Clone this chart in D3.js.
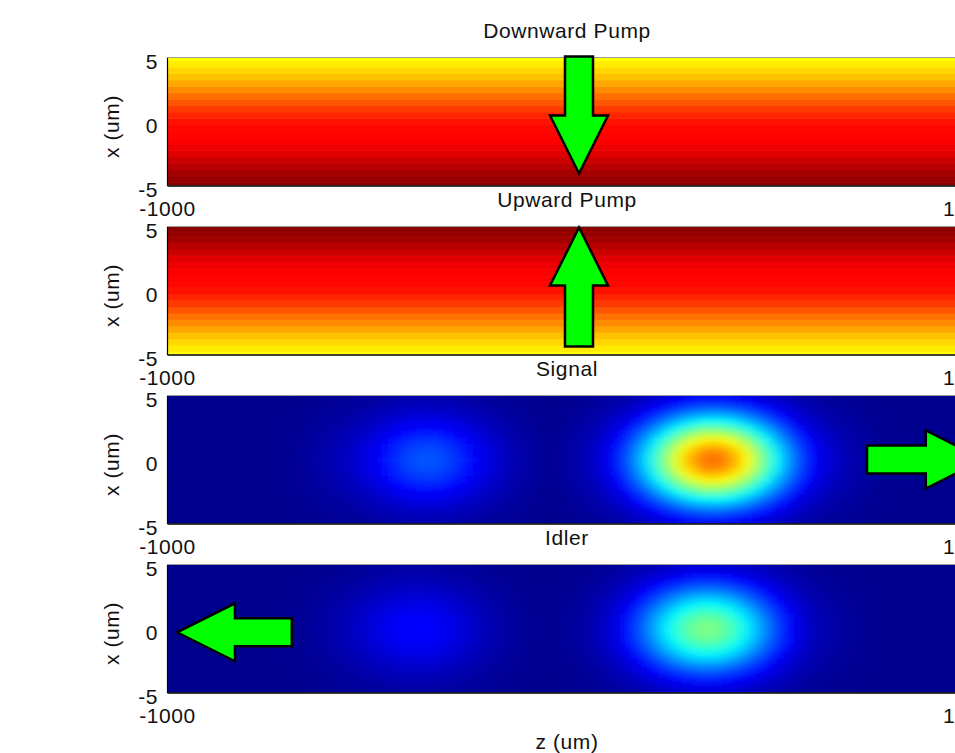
<!DOCTYPE html>
<html>
<head>
<meta charset="utf-8">
<script src="https://cdn.jsdelivr.net/npm/d3@7"></script>
<style>
body { margin: 0; background: #fff; overflow: hidden; }
svg text { font-family: "Liberation Sans", Arial, sans-serif; font-size: 21px; letter-spacing: 0.6px; fill: #111; }
</style>
</head>
<body>
<svg id="drawing_region"></svg>
<script>
// panel titles, in order top to bottom
const titles = ["Downward Pump", "Upward Pump", "Signal", "Idler"];
const zTicks = [-1000, 1000];
const xTicks = [-5, 0, 5];

// transverse sample points (um)
const xGrid = [-5, -4.5, -4, -3.5, -3, -2.5, -2, -1.5, -1, -0.5, 0, 0.5, 1, 1.5, 2, 2.5, 3, 3.5, 4, 4.5, 5];
// pump intensity across x (hot colormap fraction)
const downPump = [0.20, 0.22, 0.24, 0.27, 0.30, 0.33, 0.35, 0.37, 0.38, 0.385, 0.40, 0.43, 0.46, 0.50, 0.54, 0.58, 0.62, 0.66, 0.69, 0.72, 0.75];
const upPump   = [0.75, 0.72, 0.69, 0.66, 0.62, 0.58, 0.54, 0.50, 0.46, 0.43, 0.40, 0.385, 0.38, 0.37, 0.35, 0.33, 0.30, 0.27, 0.24, 0.22, 0.20];

// signal / idler: profile along z (every 25 um, -1000..1000) and shared profile across x
const zStep = 25;
const signalZ = [0, 0, 0, 0, 0, 0, 0, 0, 0, 0,
  0.002, 0.004, 0.006, 0.010, 0.016, 0.025, 0.034, 0.045, 0.058, 0.075, 0.095, 0.118, 0.144, 0.170, 0.191,
  0.205, 0.210, 0.205, 0.191, 0.170, 0.144, 0.118, 0.095, 0.072, 0.052, 0.036, 0.024, 0.015, 0.009, 0.006,
  0.022, 0.032, 0.048, 0.072, 0.107, 0.147, 0.204, 0.273, 0.352, 0.438, 0.525, 0.609, 0.681, 0.733,
  0.763, 0.765, 0.741, 0.692, 0.624, 0.542, 0.455, 0.369, 0.288, 0.217, 0.157, 0.115, 0.082, 0.060,
  0.042, 0.029, 0.019, 0.012, 0.007, 0.004, 0.002,
  0, 0, 0, 0, 0, 0];
const idlerZ = [0, 0, 0, 0, 0, 0, 0, 0, 0, 0,
  0.002, 0.003, 0.005, 0.008, 0.012, 0.018, 0.026, 0.036, 0.048, 0.062, 0.077, 0.092, 0.107, 0.119, 0.127,
  0.130, 0.127, 0.119, 0.107, 0.092, 0.076, 0.060, 0.045, 0.032, 0.022, 0.015, 0.009, 0.006, 0.003, 0.008,
  0.012, 0.018, 0.029, 0.046, 0.070, 0.102, 0.142, 0.191, 0.246, 0.306, 0.365, 0.419, 0.462, 0.490,
  0.500, 0.490, 0.462, 0.419, 0.365, 0.306, 0.246, 0.191, 0.142, 0.102, 0.070, 0.046, 0.034, 0.024,
  0.016, 0.010, 0.006, 0.003, 0.001,
  0, 0, 0, 0, 0, 0, 0, 0];
const beamX = [0.148, 0.213, 0.295, 0.393, 0.503, 0.621, 0.737, 0.842, 0.927, 0.981, 1, 0.981, 0.927, 0.842, 0.737, 0.621, 0.503, 0.393, 0.295, 0.213, 0.148];

// arrows in data units (z, x): tail -> tip, one per panel
const arrows = [
  {panel: 0, from: [30, 5.08], to: [30, -4.06]},
  {panel: 1, from: [30, -4.37], to: [30, 4.92]},
  {panel: 2, from: [750, 0], to: [1042, 0]},
  {panel: 3, from: [-688, -0.3], to: [-975, -0.3]}
];

const width = 955, height = 753;
const margin = {top: 57.5, left: 167};
const plotW = 800, plotH = 128, step = 169;

const svg = d3.select('#drawing_region')
    .attr('width', width)
    .attr('height', height);

const zGrid = d3.range(-1000, 1000 + zStep / 2, zStep);
const xStep = 0.5;

const zscale = d3.scaleLinear().domain([-1000, 1000]).range([0, plotW]);
const yscale = d3.scaleLinear().domain([-5, 5]).range([plotH, 0]);

const hot = d3.scaleLinear()
    .domain([0, 0.375, 0.75, 1])
    .range(['#000000', '#ff0000', '#ffff00', '#ffffff'])
    .clamp(true);
const jet = d3.scaleLinear()
    .domain([0, 0.125, 0.375, 0.625, 0.875, 1])
    .range(['#00008f', '#0000ff', '#00ffff', '#ffff00', '#ff0000', '#800000'])
    .clamp(true);

const defs = svg.append('defs');
defs.append('clipPath').attr('id', 'plotClip')
  .append('rect').attr('width', plotW).attr('height', plotH);

// soften the sampled field, then force full alpha so edges keep their colour
const filt = defs.append('filter').attr('id', 'smooth')
    .attr('filterUnits', 'userSpaceOnUse')
    .attr('x', 0).attr('y', 0).attr('width', plotW).attr('height', plotH);
filt.append('feGaussianBlur').attr('stdDeviation', '6 3');
filt.append('feComponentTransfer')
  .append('feFuncA').attr('type', 'table').attr('tableValues', '1 1');

const panels = titles.map((t, i) => svg.append('g')
    .attr('transform', `translate(${margin.left}, ${margin.top + i * step})`));

// pumps: bands across x only
[downPump, upPump].forEach((vals, i) => {
  panels[i].append('g')
      .attr('clip-path', 'url(#plotClip)')
    .selectAll('rect')
    .data(vals.map((v, j) => ({x: xGrid[j], v: v})))
    .join('rect')
      .attr('x', 0)
      .attr('width', plotW)
      .attr('y', d => yscale(d.x + xStep / 2))
      .attr('height', yscale(0) - yscale(xStep) + 0.6)
      .attr('fill', d => hot(d.v));
});

// signal and idler: z profile times transverse profile
[signalZ, idlerZ].forEach((zs, k) => {
  const cells = [];
  zGrid.forEach((z, i) => beamX.forEach((b, j) => cells.push({z: z, x: xGrid[j], v: zs[i] * b})));
  const outer = panels[k + 2].append('g').attr('clip-path', 'url(#plotClip)');
  outer.append('rect').attr('width', plotW).attr('height', plotH).attr('fill', jet(0));
  outer.append('g')
      .attr('filter', 'url(#smooth)')
    .selectAll('rect')
    .data(cells)
    .join('rect')
      .attr('x', d => zscale(d.z - zStep / 2))
      .attr('width', zscale(zStep) - zscale(0) + 0.6)
      .attr('y', d => yscale(d.x + xStep / 2))
      .attr('height', yscale(0) - yscale(xStep) + 0.6)
      .attr('fill', d => jet(d.v));
});

// axes, titles, labels
panels.forEach((g, i) => {
  g.append('line')
      .attr('x1', 0).attr('x2', plotW).attr('y1', 0).attr('y2', 0)
      .attr('stroke', '#9a9a9a').attr('stroke-width', 1);

  const ya = g.append('g')
      .call(d3.axisLeft(yscale).tickValues(xTicks).tickFormat(d => String(d))
        .tickSize(0).tickPadding(9));
  ya.select('.domain').attr('stroke', '#000').attr('stroke-width', 1.2);
  ya.selectAll('text').attr('dy', '0.53em');

  const xa = g.append('g')
      .attr('transform', `translate(0, ${plotH})`)
      .call(d3.axisBottom(zscale).tickValues(zTicks).tickFormat(d => String(d))
        .tickSize(0).tickPadding(16));
  xa.select('.domain').attr('stroke', '#000').attr('stroke-width', 1.5);

  g.append('text')
      .attr('x', plotW / 2).attr('y', -20)
      .attr('text-anchor', 'middle')
      .text(titles[i]);

  g.append('text')
      .attr('transform', `translate(-48, ${plotH / 2 + 5}) rotate(-90)`)
      .attr('text-anchor', 'middle')
      .text('x (um)');
});

svg.append('text')
    .attr('x', margin.left + plotW / 2).attr('y', 749)
    .attr('text-anchor', 'middle')
    .text('z (um)');

// direction arrows
const shaftHalf = 14, headHalf = 29, headLen = 58;
arrows.forEach(a => {
  const p0 = [zscale(a.from[0]), yscale(a.from[1])];
  const p1 = [zscale(a.to[0]), yscale(a.to[1])];
  const len = Math.hypot(p1[0] - p0[0], p1[1] - p0[1]);
  const u = [(p1[0] - p0[0]) / len, (p1[1] - p0[1]) / len];
  const n = [-u[1], u[0]];
  const base = [p1[0] - u[0] * headLen, p1[1] - u[1] * headLen];
  const pt = (p, s) => [p[0] + n[0] * s, p[1] + n[1] * s];
  const pts = [pt(p0, shaftHalf), pt(base, shaftHalf), pt(base, headHalf), p1,
               pt(base, -headHalf), pt(base, -shaftHalf), pt(p0, -shaftHalf)];
  panels[a.panel].append('polygon')
      .attr('points', pts.map(p => p.join(',')).join(' '))
      .attr('fill', '#00ff00')
      .attr('stroke', '#000')
      .attr('stroke-width', 2.5)
      .attr('stroke-linejoin', 'miter');
});
</script>
</body>
</html>
